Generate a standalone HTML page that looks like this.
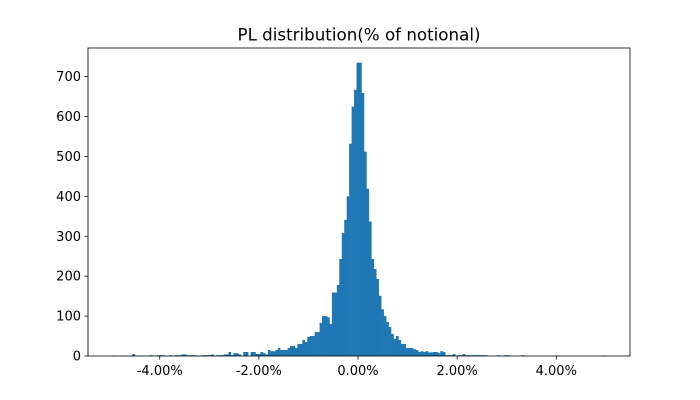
<!DOCTYPE html>
<html><head><meta charset="utf-8"><style>
body{margin:0;background:#fff;}
svg{display:block;font-family:"DejaVu Sans","Liberation Sans",sans-serif;}
</style></head><body>
<svg id="chart" width="700" height="400">
<rect width="700" height="400" fill="#fff"/>
<text x="359" y="40.5" font-size="16.7" text-anchor="middle">PL distribution(% of notional)</text>
<g id="bars"></g>
<g id="axes"></g>
</svg>
<script>
const binStart = -4.95;
const binWidth = 0.0497;
const counts = [
1,0,0,0,0,0,0,0,5,0,
0,0,0,0,0,2,0,0,2,2,
2,0,0,2,0,2,2,2,4,4,
2,2,2,2,0,0,2,2,2,2,
4,0,2,2,2,4,4,10,2,7,
7,4,0,10,10,0,10,10,5,5,
10,7,4,15,12,12,15,20,15,15,
15,20,25,25,20,30,30,40,35,48,
50,50,60,60,83,100,100,97,80,159,
159,178,243,308,341,400,532,625,667,735,
735,659,512,419,337,243,218,193,151,117,
100,85,73,55,43,50,40,30,30,20,
20,20,17,15,10,12,10,12,9,9,
10,10,7,12,10,2,2,2,5,0,
2,2,5,2,2,2,2,2,2,2,
2,2,0,0,0,0,2,0,0,2,
2,0,0,0,0,0,2,0,0,0,
0,0,0,0,0,0,0,0,0,0,
0,0,0,0,0,0,0,0,0,0,
0,0,0,0,0,0,0,0,0,1];
const yTicks = [0,100,200,300,400,500,600,700];
const xTicks = [-4,-2,0,2,4];
const xTickLabels = ["-4.00%","-2.00%","0.00%","2.00%","4.00%"];

const L=88,R=630,T=48,B=356;
const dataMin=binStart, dataMax=binStart+binWidth*counts.length;
const pad=(dataMax-dataMin)*0.05;
const xMin=dataMin-pad, xMax=dataMax+pad;
const yMax=Math.max(...counts)*1.05;
const xs=v=>L+(v-xMin)/(xMax-xMin)*(R-L);
const ys=v=>B-v/yMax*(B-T);
const NS="http://www.w3.org/2000/svg";
const bars=document.getElementById('bars');
counts.forEach((c,i)=>{
  if(c<=0)return;
  const x0=xs(binStart+i*binWidth), x1=xs(binStart+(i+1)*binWidth);
  const r=document.createElementNS(NS,'rect');
  r.setAttribute('x',x0);r.setAttribute('width',x1-x0+0.3);
  r.setAttribute('y',ys(c));r.setAttribute('height',B-ys(c));
  r.setAttribute('fill','#1f77b4');
  
  
  bars.appendChild(r);
});
const ax=document.getElementById('axes');
const frame=document.createElementNS(NS,'rect');
frame.setAttribute('x',L);frame.setAttribute('y',T);frame.setAttribute('width',R-L);frame.setAttribute('height',B-T);
frame.setAttribute('fill','none');frame.setAttribute('stroke','#000');frame.setAttribute('stroke-width','0.8');


ax.appendChild(frame);
yTicks.forEach(v=>{
  const y=ys(v);
  const l=document.createElementNS(NS,'line');
  l.setAttribute('x1',L-3.5);l.setAttribute('x2',L);l.setAttribute('y1',y);l.setAttribute('y2',y);l.setAttribute('stroke','#000');l.setAttribute('stroke-width','0.8');
  
  
  ax.appendChild(l);
  const t=document.createElementNS(NS,'text');
  t.setAttribute('x',L-7);t.setAttribute('y',y+4.5);t.setAttribute('text-anchor','end');t.setAttribute('font-size','13');
  t.textContent=v;
  
  
  ax.appendChild(t);
});
xTicks.forEach((v,i)=>{
  const x=xs(v);
  const l=document.createElementNS(NS,'line');
  l.setAttribute('x1',x);l.setAttribute('x2',x);l.setAttribute('y1',B);l.setAttribute('y2',B+3.5);l.setAttribute('stroke','#000');l.setAttribute('stroke-width','0.8');
  
  
  ax.appendChild(l);
  const t=document.createElementNS(NS,'text');
  t.setAttribute('x',x);t.setAttribute('y',B+19);t.setAttribute('text-anchor','middle');t.setAttribute('font-size','13');
  t.textContent=xTickLabels[i];
  
  
  ax.appendChild(t);
});
</script>
</body></html>
